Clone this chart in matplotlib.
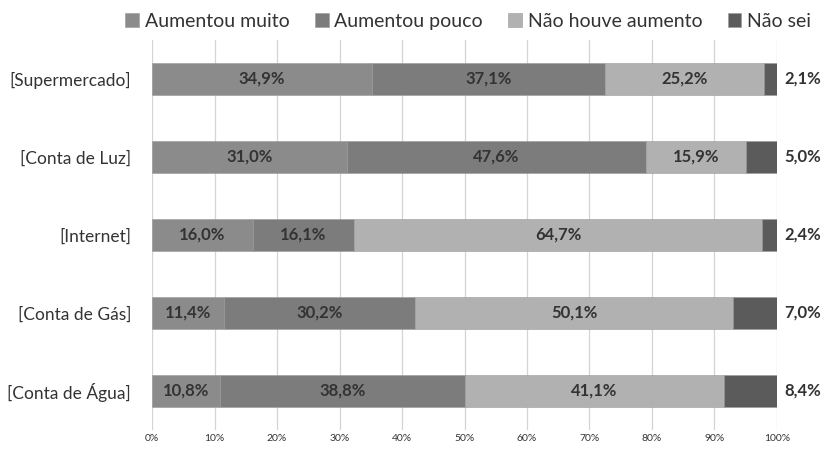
import numpy as np
import matplotlib.pyplot as plt

plt.rcParams['font.family'] = ['Lato', 'DejaVu Sans']

# Data (percent, as printed on the chart)
categories = ['[Supermercado]', '[Conta de Luz]', '[Internet]', '[Conta de Gás]', '[Conta de Água]']
series_names = ['Aumentou muito', 'Aumentou pouco', 'Não houve aumento', 'Não sei']
muito = [34.9, 31.0, 16.0, 11.4, 10.8]
pouco = [37.1, 47.6, 16.1, 30.2, 38.8]
nao_houve = [25.2, 15.9, 64.7, 50.1, 41.1]
nao_sei = [2.1, 5.0, 2.4, 7.0, 8.4]

colors = ['#8b8b8b', '#7c7c7c', '#b1b1b1', '#5b5b5b']

values = np.array([muito, pouco, nao_houve, nao_sei])
totals = values.sum(axis=0)
shares = values / totals  # 100% stacked, like Excel

fig = plt.figure(figsize=(8.23, 4.54), dpi=100)
ax = fig.add_axes([0.1847, 0.053, 0.7594, 0.859])

y = np.arange(len(categories))
left = np.zeros(len(categories))
for i, (name, col) in enumerate(zip(series_names, colors)):
    ax.barh(y, shares[i], left=left, height=0.4, color=col, label=name,
            edgecolor='#9a9a9a', linewidth=0.4, zorder=2)
    for j in range(len(categories)):
        txt = f'{values[i, j]:.1f}%'.replace('.', ',')
        if i == 3:
            ax.text(1.012, y[j], txt, ha='left', va='center', fontsize=12,
                    fontweight='bold', color='#333333', clip_on=False)
        else:
            ax.text(left[j] + shares[i, j] / 2, y[j], txt, ha='center', va='center',
                    fontsize=12, fontweight='bold', color='#333333')
    left = left + shares[i]

ax.set_xlim(0, 1)
ax.set_ylim(len(categories) - 0.5, -0.5)
ax.set_xticks(np.linspace(0, 1, 11))
ax.set_xticklabels([f'{k}%' for k in range(0, 101, 10)], fontsize=7.5, color='#333333')
ax.set_yticks(y)
ax.set_yticklabels(categories, fontsize=12.5, color='#333333')
ax.tick_params(axis='both', length=0)
ax.tick_params(axis='y', pad=15)
ax.tick_params(axis='x', pad=3)
ax.grid(axis='x', color='#d4d4d4', linewidth=0.9, zorder=0)
ax.set_axisbelow(True)
for s in ax.spines.values():
    s.set_visible(False)

fig.legend(loc='upper center', bbox_to_anchor=(0.569, 1.01), ncol=4, frameon=False,
           fontsize=14, handlelength=0.7, handleheight=0.7, handletextpad=0.3,
           columnspacing=1.3, labelcolor='#333333')

fig.savefig('out.png', dpi=100)
